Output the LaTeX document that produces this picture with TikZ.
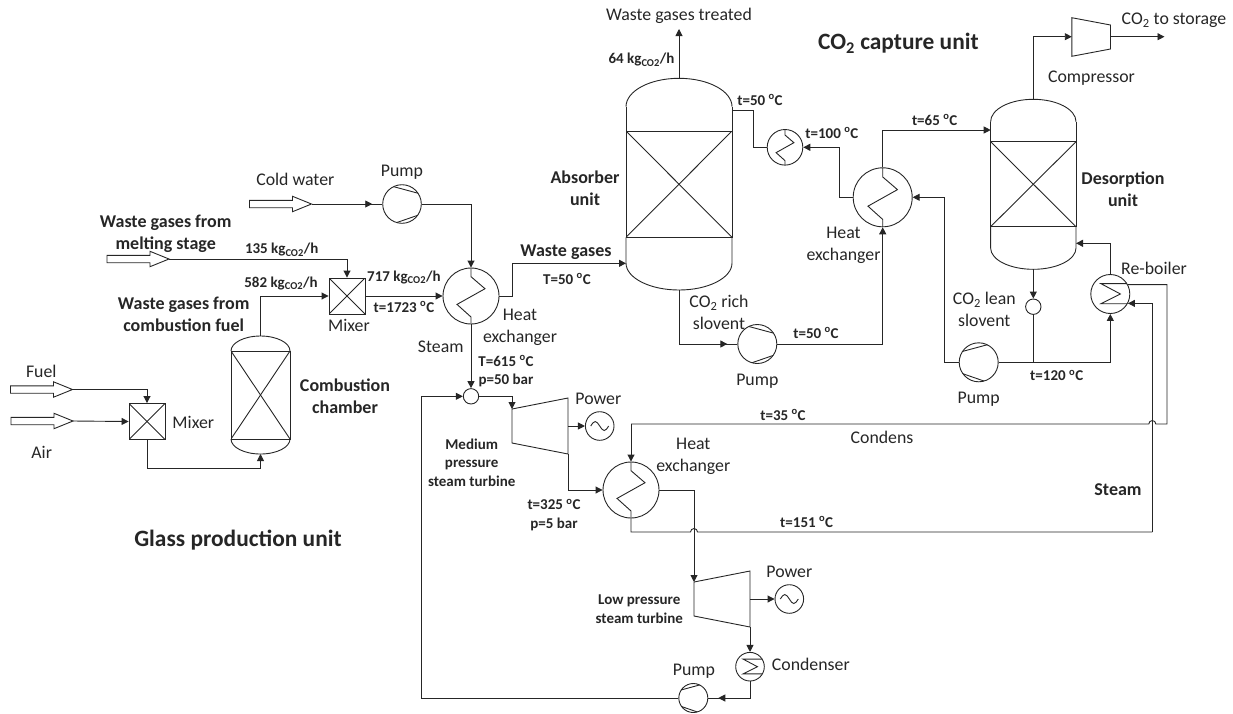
\documentclass[tikz,border=0pt]{standalone}
\usepackage{fontspec}
\setmainfont{Carlito}
\usetikzlibrary{arrows.meta,decorations.markings,calc}
\newcommand{\degc}{\textsuperscript{o}C}
\newcommand{\cotwo}{CO\textsubscript{2}}
\newcommand{\rate}[1]{#1 kg\textsubscript{CO2}/h}
% column: name, centre x, half width, apex, wall start, packing top, packing bottom, wall end, lower apex
\newcommand{\column}[9]{%
  \node[packed,minimum width=2*#3,minimum height=#7-#6]at(#2,{(#6+#7)/2})(#1){};
  \draw[wall]({#2-#3},#5)arc[start angle=180,end angle=0,x radius=#3pt,y radius={(#5-#4)*1pt}];
  \draw[wall]({#2-#3},#5)--({#2-#3},#6)({#2+#3},#5)--({#2+#3},#6);
  \coordinate(#1 top)at(#2,#4);
  \columnlow{#1}{#2}{#3}{#7}{#8}{#9}}
\newcommand{\columnlow}[6]{%
  \draw[wall]({#2-#3},#4)--({#2-#3},#5)arc[start angle=180,end angle=360,x radius=#3pt,y radius={(#6-#5)*1pt}]--({#2+#3},#4);
  \coordinate(#1 bottom)at(#2,#6);}
% turbine: name, left x, centre y
\newcommand{\turbine}[3]{%
  \draw[wall](#2,#3-17)--(#2+56,#3-28)--(#2+56,#3+28)--(#2,#3+17)--cycle;
  \coordinate(#1 in)at(#2,#3-17);
  \coordinate(#1 out)at(#2+56,#3+28);
  \coordinate(#1 shaft)at(#2+56,#3);}
% hollow feed arrow: name, left x, centre y
\newcommand{\feed}[3]{%
  \draw[wall](#2,#3-3.7)--(#2+43,#3-3.7)--(#2+43,#3-7.7)--(#2+62,#3)--(#2+43,#3+7.7)--(#2+43,#3+3.7)--(#2,#3+3.7)--cycle;
  \coordinate(#1 tip)at(#2+62,#3);}
\tikzset{
  wall/.style={line width=0.9pt,draw=black!85},
  tipa/.tip={Triangle[length=7pt,width=7pt]},
  pipe/.style={wall},
  flow/.style={wall,-tipa},
  midtip/.style={postaction={decorate,decoration={markings,mark=at position #1 with {\arrow{tipa}}}}},
  lab/.style={font=\fontsize{17.8}{22}\selectfont,inner sep=0,align=center,text=black!85},
  blab/.style={font=\fontsize{18}{22}\selectfont\bfseries,inner sep=0,align=center,text=black!85},
  slab/.style={font=\fontsize{15}{18.5}\selectfont\bfseries,inner sep=0,align=center,text=black!85},
  tlab/.style={font=\fontsize{23.4}{26}\selectfont\bfseries,inner sep=0,align=center,text=black!85},
  packed/.style={wall,rectangle,inner sep=0,path picture={
    \draw[wall](path picture bounding box.south west)--(path picture bounding box.north east);
    \draw[wall](path picture bounding box.north west)--(path picture bounding box.south east);}},
  mixer/.style={packed,minimum size=36pt},
  junct/.style={wall,circle,inner sep=0,minimum size=15.4pt},
  hx/.style={wall,circle,inner sep=0,minimum size=2*#1,path picture={
    \draw[wall,shift={(path picture bounding box.center)},x=#1pt,y=-#1pt]
      (0,-1)--(0,-.69)--(.5,-.26)--(-.5,.3)--(0,.75)--(0,1);}},
  pumpr/.style={wall,circle,inner sep=0,minimum size=2*#1,path picture={
    \draw[wall,shift={(path picture bounding box.center)},x=#1pt,y=-#1pt]
      (-.55,-.93)--(.86,-.55)(-.3,.97)--(.86,.57);}},
  pumpl/.style={wall,circle,inner sep=0,minimum size=2*#1,path picture={
    \draw[wall,shift={(path picture bounding box.center)},x=#1pt,y=-#1pt]
      (.55,-.93)--(-.86,-.55)(.3,.97)--(-.86,.57);}},
  coil/.style={wall,circle,inner sep=0,minimum size=2*#1,path picture={
    \draw[wall,shift={(path picture bounding box.center)},x=#1pt,y=-#1pt]
      (1.05,-.53)--(-.48,-.53)--(.52,0)--(-.48,.5)--(1.05,.5);}},
  gen/.style={wall,circle,inner sep=0,minimum size=28.6pt,path picture={
    \draw[wall,shift={(path picture bounding box.center)}]
      (-9,0)sin(-4.5,-4.5)cos(0,0)sin(4.5,4.5)cos(9,0);}},
}
\begin{document}
\begin{tikzpicture}[x=1pt,y=-1pt]
  \useasboundingbox(0,0)rectangle(1233,713);
  % glass production unit
  \feed{fuel}{10.5}{389.5}
  \feed{air}{11}{421}
  \feed{melt}{107}{259}
  \feed{water}{249.5}{204}
  \node[mixer]at(147,421.5)(mixa){};
  \node[mixer]at(347,296)(mixb){};
  \column{burner}{260.5}{29.5}{336}{351}{351}{439}{439}{454}
  \node[pumpr=19.3]at(402,204)(pumpa){};
  \node[hx=28]at(471,296)(hxa){};
  \coordinate(burnerbend)at(147,468);
  \draw[flow](fuel tip)-|(mixa.north);
  \draw[flow](air tip)--(mixa.west);
  \draw[flow](mixa.south)--(burnerbend)-|(burner bottom);
  \draw[flow](burner top)|-(mixb.west);
  \draw[flow](melt tip)-|(mixb.north);
  \draw[flow](mixb.east)--(hxa.west);
  \draw[pipe,midtip=-10pt](water tip)--(pumpa.west);
  \draw[flow](pumpa.east)-|(hxa.north);
  % capture unit
  \column{absorber}{679}{53}{78.3}{106.7}{131}{237.3}{263}{290}
  \column{desorber}{1033.3}{42.7}{99.3}{121.7}{141.7}{226.7}{248}{269.3}
  \node[pumpr=19.5]at(757.3,344)(pumpb){};
  \node[pumpl=19.5]at(978.7,362.3)(pumpc){};
  \node[hx=17.8]at(785,147.3)(hxb){};
  \node[hx=29.5]at(882.7,197.3)(hxc){};
  \node[coil=19.5]at(1110.3,294)(reboiler){};
  \node[junct]at(1033.3,306.7)(junb){};
  \coordinate(gasbend)at(512,263.3);
  \coordinate(gasin)at(626,263.3);
  \coordinate(absout)at(732,110);
  \coordinate(absbend)at(753.2,147.3);
  \coordinate(treated)at(679,29);
  \coordinate(richbend)at(882.7,344);
  \coordinate(hotbend)at(839.5,147.3);
  \coordinate(desin)at(990.7,130);
  \coordinate(leanbend)at(944.8,197.3);
  \coordinate(tee)at(1033.3,362.3);
  \coordinate(backin)at(1076,243.3);
  \coordinate(compa)at(1071.8,17.7);
  \coordinate(compb)at(1110.5,25);
  \coordinate(compc)at(1110.5,49);
  \coordinate(compd)at(1071.8,56.3);
  \coordinate(compin)at(1071.8,36.7);
  \coordinate(compout)at(1110.5,36.7);
  \coordinate(stored)at(1164.5,36.7);
  \draw[wall](compa)--(compb)--(compc)--(compd)--cycle;
  \draw[pipe](hxa.east)-|(gasbend);
  \draw[flow](gasbend)--(gasin);
  \draw[flow](absorber top)--(treated);
  \draw[pipe,midtip=-10pt](absorber bottom)|-(pumpb.west);
  \draw[flow](pumpb.east)--(richbend)--(hxc.south);
  \draw[pipe](absout)-|(absbend);
  \draw[pipe](absbend)--(hxb.west);
  \draw[flow](hxc.west)-|(hotbend)--(hxb.east);
  \draw[flow](hxc.north)|-(desin);
  \draw[flow](pumpc.west)-|(leanbend)--(hxc.east);
  \draw[flow](desorber bottom)--(junb.north);
  \draw[pipe](junb.south)--(tee);
  \draw[pipe](pumpc.east)--(tee);
  \draw[flow](tee)-|(reboiler.south);
  \draw[flow](reboiler.north)|-(backin);
  \draw[flow](desorber top)|-(compin);
  \draw[flow](compout)--(stored);
  % steam cycle
  \node[junct]at(471,396.3)(juna){};
  \turbine{turba}{512}{426}
  \turbine{turbb}{694}{599}
  \node[gen]at(599.7,426)(gena){};
  \node[gen]at(789.3,599)(genb){};
  \node[hx=28]at(631,490)(hxd){};
  \node[coil=14.3]at(750,666.7)(cond){};
  \node[pumpl=14.5]at(693.3,698)(pumpd){};
  \coordinate(cyclebend)at(421,698);
  \coordinate(reboilbend)at(1167,424);
  \coordinate(hopa)at(1155.8,424);
  \coordinate(condbend)at(631,424);
  \coordinate(hotlow)at(631,532);
  \coordinate(hopb)at(690.5,532);
  \coordinate(steambend)at(1152.3,532);
  \draw[flow](hxa.south)--(juna.north);
  \draw[flow](juna.east)-|(turba in);
  \draw[flow](turba shaft)--(gena.west);
  \draw[flow](turba out)|-(hxd.west);
  \draw[flow](hxd.east)-|(turbb in);
  \draw[flow](turbb shaft)--(genb.west);
  \draw[flow](turbb out)--(cond.north);
  \draw[pipe,midtip=-10pt](cond.south)|-(pumpd.east);
  \draw[flow](pumpd.west)--(cyclebend)|-(juna.west);
  \draw[pipe](reboiler.28)-|(reboilbend)--(hopa)arc[start angle=0,end angle=180,radius=3.5pt]--(condbend);
  \draw[flow](condbend)--(hxd.north);
  \draw[pipe](hxd.south)--(hotlow)--(hopb)arc[start angle=180,end angle=0,radius=3.5pt]--(steambend);
  \draw[flow](steambend)|-(reboiler.-28);
  % labels
  \node[lab]at(41.3,371.7)(lfuel){Fuel};
  \node[lab]at(41.7,452.7)(lair){Air};
  \node[lab]at(193.3,422.3)(lmixa){Mixer};
  \node[lab]at(349,325.7)(lmixb){Mixer};
  \node[lab]at(295.3,179.3)(lwater){Cold water};
  \node[lab]at(402,172)(lpumpa){Pump};
  \node[lab]at(440.7,346.7)(lsteam){Steam};
  \node[lab]at(520,327.7)(lhxa){Heat\\exchanger};
  \node[lab]at(719,312.5)(lrich){\cotwo{} rich\\slovent};
  \node[lab]at(757.3,381)(lpumpb){Pump};
  \node[lab]at(598.3,399)(lpowa){Power};
  \node[lab]at(693.3,456.5)(lhxd){Heat\\exchanger};
  \node[lab]at(789.3,571.7)(lpowb){Power};
  \node[lab,anchor=west]at(771.7,664)(lcond){Condenser};
  \node[lab]at(694,671)(lpumpd){Pump};
  \node[lab]at(679,15.5)(ltreated){Waste gases treated};
  \node[lab]at(843.5,245)(lhxc){Heat\\exchanger};
  \node[lab]at(1174,20.7)(lstored){\cotwo{} to storage};
  \node[lab]at(1091.5,78)(lcomp){Compressor};
  \node[lab]at(1154,268.3)(lreb){Re-boiler};
  \node[lab]at(984.3,309.3)(llean){\cotwo{} lean\\slovent};
  \node[lab]at(978.7,399)(lpumpc){Pump};
  \node[lab]at(882,437)(lcondens){Condens};
  \node[blab]at(165.7,234)(lmelt){Waste gases from\\melting stage};
  \node[blab]at(183.7,314)(lfumes){Waste gases from\\combustion fuel};
  \node[blab]at(345,396)(lburner){Combustion\\chamber};
  \node[blab]at(566,252)(lgas){Waste gases};
  \node[blab]at(585,188.5)(labs){Absorber\\unit};
  \node[blab]at(1123,189)(ldes){Desorption\\unit};
  \node[blab]at(1118,490)(lsteamb){Steam};
  \node[slab]at(281.7,250)(lratea){\rate{135}};
  \node[slab]at(281,283)(lrateb){\rate{582}};
  \node[slab,anchor=west]at(367,277)(lratec){\rate{717}};
  \node[slab]at(641.5,60)(lrated){\rate{64}};
  \node[slab]at(404,307)(ltempa){t=1723 \degc};
  \node[slab]at(567,279)(ltempb){T=50 \degc};
  \node[slab]at(506,371.3)(ltempc){T=615 \degc\\p=50 bar};
  \node[slab]at(471.7,462.7)(lmed){Medium\\pressure\\steam turbine};
  \node[slab]at(554,515)(ltempd){t=325 \degc\\p=5 bar};
  \node[slab]at(639.3,609.3)(llow){Low pressure\\steam turbine};
  \node[slab]at(760,100)(ltempe){t=50 \degc};
  \node[slab]at(831.9,133)(ltempf){t=100 \degc};
  \node[slab]at(934.7,120)(ltempg){t=65 \degc};
  \node[slab]at(816,333)(ltemph){t=50 \degc};
  \node[slab]at(1056.7,375.7)(ltempi){t=120 \degc};
  \node[slab]at(783,415)(ltempj){t=35 \degc};
  \node[slab]at(806.7,522)(ltempk){t=151 \degc};
  \node[tlab]at(898.4,43)(ltitlea){\cotwo{} capture unit};
  \node[tlab]at(238,540)(ltitleb){Glass production unit};
\end{tikzpicture}
\end{document}
